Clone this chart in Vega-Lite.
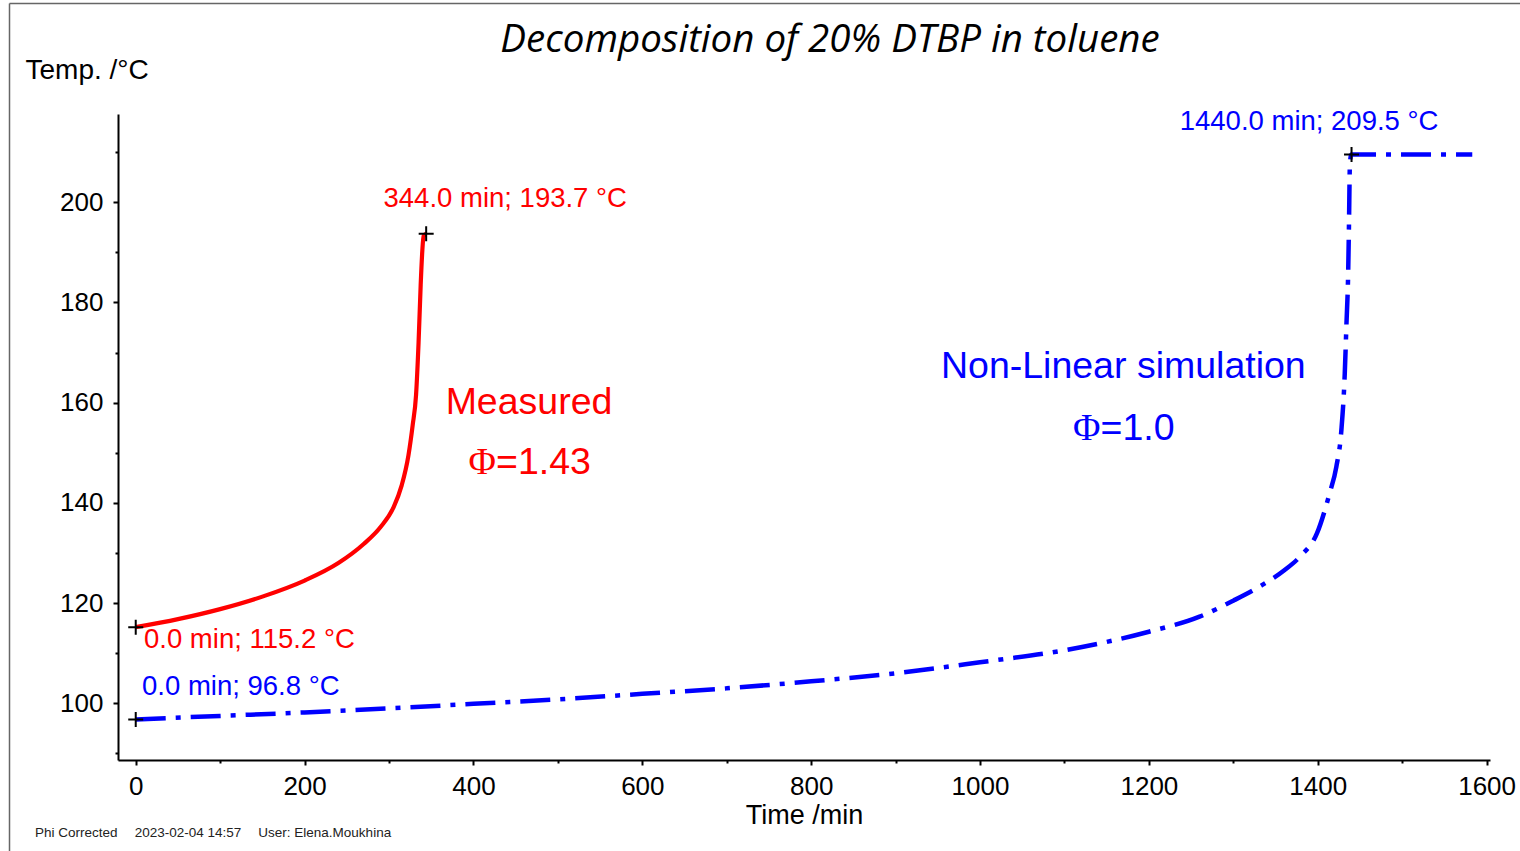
{
  "$schema": "https://vega.github.io/schema/vega-lite/v6.json",
  "width": 1372,
  "height": 646,
  "autosize": {"type": "none"},
  "padding": {"left": 118, "top": 114, "right": 30, "bottom": 91},
  "background": "white",
  "config": {
    "view": {"stroke": null},
    "axis": {"grid": false, "domainColor": "black", "tickColor": "black", "labelColor": "black", "titleColor": "black", "labelFont": "Liberation Sans", "titleFont": "Liberation Sans", "titleFontWeight": "normal"}
  },
  "datasets": {
    "measured": [
      {"t": 0, "temp": 115.2},
      {"t": 50, "temp": 116.8},
      {"t": 100, "temp": 118.8},
      {"t": 150, "temp": 121.3},
      {"t": 200, "temp": 124.5},
      {"t": 240, "temp": 128.0},
      {"t": 270, "temp": 131.8},
      {"t": 290, "temp": 135.2},
      {"t": 305, "temp": 139.0},
      {"t": 315, "temp": 143.5},
      {"t": 323, "temp": 149.5},
      {"t": 328, "temp": 155.5},
      {"t": 332, "temp": 161.5},
      {"t": 335, "temp": 172.0},
      {"t": 337.5, "temp": 183.5},
      {"t": 339.5, "temp": 190.5},
      {"t": 341, "temp": 193.3},
      {"t": 344, "temp": 193.7}
    ],
    "simulation": [
      {"t": 0, "temp": 96.8},
      {"t": 100, "temp": 97.5},
      {"t": 200, "temp": 98.2},
      {"t": 300, "temp": 99.0},
      {"t": 400, "temp": 99.9},
      {"t": 500, "temp": 100.8},
      {"t": 600, "temp": 101.9},
      {"t": 700, "temp": 103.0},
      {"t": 800, "temp": 104.4},
      {"t": 900, "temp": 106.0},
      {"t": 1000, "temp": 108.2},
      {"t": 1100, "temp": 110.6},
      {"t": 1200, "temp": 114.3},
      {"t": 1260, "temp": 117.3},
      {"t": 1300, "temp": 120.5},
      {"t": 1331, "temp": 123.3},
      {"t": 1360, "temp": 126.5},
      {"t": 1379, "temp": 129.3},
      {"t": 1399, "temp": 133.9},
      {"t": 1414, "temp": 141.9},
      {"t": 1422, "temp": 147.2},
      {"t": 1428, "temp": 154.6},
      {"t": 1432, "temp": 165.9},
      {"t": 1434, "temp": 175.8},
      {"t": 1436, "temp": 185.8},
      {"t": 1437, "temp": 195.8},
      {"t": 1438, "temp": 207.1},
      {"t": 1439.5, "temp": 209.5},
      {"t": 1583, "temp": 209.5}
    ],
    "points": [
      {"t": 0, "temp": 115.2},
      {"t": 344, "temp": 193.7},
      {"t": 0, "temp": 96.8},
      {"t": 1440, "temp": 209.5}
    ],
    "titleText": [{"t": 822.3, "temp": 229.9, "label": "Decomposition of 20% DTBP in toluene"}],
    "redLabels": [
      {"t": 293.5, "temp": 199.1, "label": "344.0 min; 193.7 °C"},
      {"t": 9.8, "temp": 111.0, "label": "0.0 min; 115.2 °C"}
    ],
    "blueLabels": [
      {"t": 1236.5, "temp": 214.5, "label": "1440.0 min; 209.5 °C"},
      {"t": 7.5, "temp": 101.7, "label": "0.0 min; 96.8 °C"}
    ],
    "redNote": [{"t": 465.8, "temp": 157.8, "label": "Measured"}],
    "redPhi": [{"t": 426.7, "temp": 145.8, "label": "Φ"}],
    "redPhiVal": [{"t": 426.7, "temp": 145.8, "label": "=1.43"}],
    "blueNote": [{"t": 1169.7, "temp": 164.9, "label": "Non-Linear simulation"}],
    "bluePhi": [{"t": 1142.7, "temp": 152.6, "label": "Φ"}],
    "bluePhiVal": [{"t": 1142.7, "temp": 152.6, "label": "=1.0"}],
    "footer": [
      {"t": -119.3, "temp": 73.4, "label": "Phi Corrected"},
      {"t": -1.2, "temp": 73.4, "label": "2023-02-04 14:57"},
      {"t": 145.2, "temp": 73.4, "label": "User: Elena.Moukhina"}
    ],
    "frameLeft": [{"t": -149.5, "temp": 239.65, "temp2": 60}],
    "frameTop": [{"t": -149.5, "t2": 1900, "temp": 239.65}]
  },
  "layer": [
    {
      "data": {"name": "measured"},
      "mark": {"type": "line", "color": "#FF0000", "strokeWidth": 4.2, "interpolate": "monotone"},
      "encoding": {
        "x": {
          "field": "t", "type": "quantitative",
          "scale": {"domain": [-21, 1604], "zero": false, "nice": false},
          "axis": {
            "orient": "bottom", "values": [0, 200, 400, 600, 800, 1000, 1200, 1400, 1600], "format": "d",
            "domainWidth": 2, "tickWidth": 2, "tickSize": 5, "labelFontSize": 26, "labelPadding": 8,
            "title": "Time /min", "titleFontSize": 27, "titleX": 686, "titleY": 63, "titleAlign": "center", "titleBaseline": "alphabetic"
          }
        },
        "y": {
          "field": "temp", "type": "quantitative",
          "scale": {"domain": [88.7, 217.6], "zero": false, "nice": false},
          "axis": {
            "orient": "left", "values": [100, 120, 140, 160, 180, 200],
            "domainWidth": 2, "tickWidth": 2, "tickSize": 5, "labelFontSize": 26, "labelPadding": 10,
            "title": "Temp. /°C", "titleFontSize": 28, "titleAngle": 0, "titleAlign": "left", "titleBaseline": "alphabetic", "titleX": -93, "titleY": -36
          }
        }
      }
    },
    {
      "data": {"name": "simulation"},
      "mark": {"type": "line", "color": "#0000FF", "strokeWidth": 4.5, "interpolate": "monotone", "strokeDash": [30, 10, 5, 10], "strokeCap": "butt"},
      "encoding": {
        "x": {"field": "t", "type": "quantitative", "axis": null},
        "y": {"field": "temp", "type": "quantitative", "axis": null}
      }
    },
    {
      "data": {"name": "points"},
      "mark": {"type": "point", "shape": "M-1,0H1M0,-1V1", "filled": false, "stroke": "black", "strokeWidth": 2, "size": 225, "opacity": 1},
      "encoding": {
        "x": {
          "field": "t", "type": "quantitative",
          "axis": {"orient": "bottom", "values": [100, 300, 500, 700, 900, 1100, 1300, 1500], "domain": false, "labels": false, "tickSize": 3, "tickWidth": 2, "title": null}
        },
        "y": {
          "field": "temp", "type": "quantitative",
          "axis": {"orient": "left", "values": [90, 110, 130, 150, 170, 190, 210], "domain": false, "labels": false, "tickSize": 3, "tickWidth": 2, "title": null}
        }
      }
    },
    {
      "data": {"name": "titleText"},
      "mark": {"type": "text", "color": "black", "font": "Open Sans", "fontStyle": "italic", "fontSize": 38.5, "align": "center", "baseline": "alphabetic"},
      "encoding": {
        "x": {"field": "t", "type": "quantitative", "axis": null},
        "y": {"field": "temp", "type": "quantitative", "axis": null},
        "text": {"field": "label"}
      }
    },
    {
      "data": {"name": "redLabels"},
      "mark": {"type": "text", "color": "#FF0000", "font": "Liberation Sans", "fontSize": 27.5, "align": "left", "baseline": "alphabetic"},
      "encoding": {
        "x": {"field": "t", "type": "quantitative", "axis": null},
        "y": {"field": "temp", "type": "quantitative", "axis": null},
        "text": {"field": "label"}
      }
    },
    {
      "data": {"name": "blueLabels"},
      "mark": {"type": "text", "color": "#0000FF", "font": "Liberation Sans", "fontSize": 27.5, "align": "left", "baseline": "alphabetic"},
      "encoding": {
        "x": {"field": "t", "type": "quantitative", "axis": null},
        "y": {"field": "temp", "type": "quantitative", "axis": null},
        "text": {"field": "label"}
      }
    },
    {
      "data": {"name": "redNote"},
      "mark": {"type": "text", "color": "#FF0000", "font": "Liberation Sans", "fontSize": 37.5, "align": "center", "baseline": "alphabetic"},
      "encoding": {
        "x": {"field": "t", "type": "quantitative", "axis": null},
        "y": {"field": "temp", "type": "quantitative", "axis": null},
        "text": {"field": "label"}
      }
    },
    {
      "data": {"name": "redPhi"},
      "mark": {"type": "text", "color": "#FF0000", "font": "Liberation Serif", "fontSize": 37.5, "align": "right", "baseline": "alphabetic"},
      "encoding": {
        "x": {"field": "t", "type": "quantitative", "axis": null},
        "y": {"field": "temp", "type": "quantitative", "axis": null},
        "text": {"field": "label"}
      }
    },
    {
      "data": {"name": "redPhiVal"},
      "mark": {"type": "text", "color": "#FF0000", "font": "Liberation Sans", "fontSize": 37.5, "align": "left", "baseline": "alphabetic"},
      "encoding": {
        "x": {"field": "t", "type": "quantitative", "axis": null},
        "y": {"field": "temp", "type": "quantitative", "axis": null},
        "text": {"field": "label"}
      }
    },
    {
      "data": {"name": "blueNote"},
      "mark": {"type": "text", "color": "#0000FF", "font": "Liberation Sans", "fontSize": 37.5, "align": "center", "baseline": "alphabetic"},
      "encoding": {
        "x": {"field": "t", "type": "quantitative", "axis": null},
        "y": {"field": "temp", "type": "quantitative", "axis": null},
        "text": {"field": "label"}
      }
    },
    {
      "data": {"name": "bluePhi"},
      "mark": {"type": "text", "color": "#0000FF", "font": "Liberation Serif", "fontSize": 37.5, "align": "right", "baseline": "alphabetic"},
      "encoding": {
        "x": {"field": "t", "type": "quantitative", "axis": null},
        "y": {"field": "temp", "type": "quantitative", "axis": null},
        "text": {"field": "label"}
      }
    },
    {
      "data": {"name": "bluePhiVal"},
      "mark": {"type": "text", "color": "#0000FF", "font": "Liberation Sans", "fontSize": 37.5, "align": "left", "baseline": "alphabetic"},
      "encoding": {
        "x": {"field": "t", "type": "quantitative", "axis": null},
        "y": {"field": "temp", "type": "quantitative", "axis": null},
        "text": {"field": "label"}
      }
    },
    {
      "data": {"name": "footer"},
      "mark": {"type": "text", "color": "#222222", "font": "Liberation Sans", "fontSize": 13.5, "align": "left", "baseline": "alphabetic"},
      "encoding": {
        "x": {"field": "t", "type": "quantitative", "axis": null},
        "y": {"field": "temp", "type": "quantitative", "axis": null},
        "text": {"field": "label"}
      }
    },
    {
      "data": {"name": "frameLeft"},
      "mark": {"type": "rule", "color": "#666666", "strokeWidth": 1.5},
      "encoding": {
        "x": {"field": "t", "type": "quantitative", "axis": null},
        "y": {"field": "temp", "type": "quantitative", "axis": null},
        "y2": {"field": "temp2"}
      }
    },
    {
      "data": {"name": "frameTop"},
      "mark": {"type": "rule", "color": "#666666", "strokeWidth": 1.5},
      "encoding": {
        "x": {"field": "t", "type": "quantitative", "axis": null},
        "x2": {"field": "t2"},
        "y": {"field": "temp", "type": "quantitative", "axis": null}
      }
    }
  ],
  "resolve": {"axis": {"x": "independent", "y": "independent"}}
}
